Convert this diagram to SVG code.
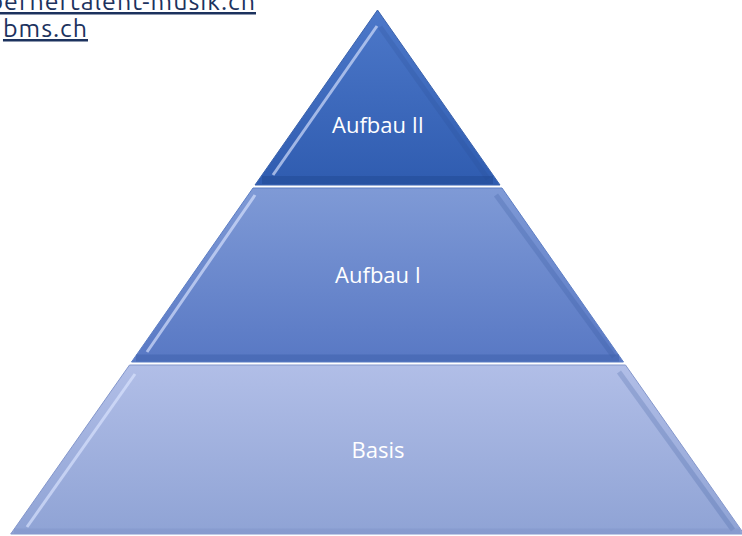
<svg xmlns="http://www.w3.org/2000/svg" width="742" height="536" viewBox="0 0 742 536">
<style>
.link{font-family:"Ubuntu","Open Sans","Liberation Sans",sans-serif;font-size:25px;letter-spacing:1px;fill:#1c325e;text-decoration:underline}
.lbl{font-family:"Open Sans","Liberation Sans",sans-serif;font-size:22px;fill:#ffffff;text-anchor:middle}
.hi{fill:none;stroke:#dbe5ff;stroke-opacity:0.65;stroke-width:3}
.sh{fill:none;stroke:#2a4c92;stroke-opacity:0.2;stroke-width:5}
</style>
<defs>
<linearGradient id="g1" x1="0" y1="0" x2="0" y2="1">
<stop offset="0" stop-color="#4d78c9"/><stop offset="1" stop-color="#2f5cb0"/>
</linearGradient>
<linearGradient id="g2" x1="0" y1="0" x2="0" y2="1">
<stop offset="0" stop-color="#7f9ad6"/><stop offset="1" stop-color="#5878c4"/>
</linearGradient>
<linearGradient id="g3" x1="0" y1="0" x2="0" y2="1">
<stop offset="0" stop-color="#b1bee7"/><stop offset="1" stop-color="#8fa3d5"/>
</linearGradient>
</defs>
<rect width="742" height="536" fill="#ffffff"/>
<g id="links">
<text class="link" x="256" y="10" text-anchor="end">bernertalent-musik.ch</text>
<text class="link" x="88" y="37" text-anchor="end">bms.ch</text>
</g>
<g id="basis">
<polygon points="129.5,365 625.5,365 744,534 10.7,534" fill="url(#g3)" stroke="#8497cc" stroke-width="1"/>
<line class="hi" x1="135" y1="374" x2="27" y2="527"/>
<line class="sh" x1="619" y1="372" x2="733" y2="530"/>
<line x1="14" y1="531" x2="740" y2="531" stroke="#7f93c8" stroke-opacity="0.45" stroke-width="5"/>
<text class="lbl" x="378" y="458">Basis</text>
</g>
<g id="aufbau1">
<polygon points="253,188 502,188 623.5,362 131.5,362" fill="url(#g2)" stroke="#5d7ec4" stroke-width="1"/>
<line class="hi" x1="255" y1="195" x2="147" y2="352"/>
<line class="sh" x1="496" y1="195" x2="614" y2="357"/>
<line x1="136" y1="358" x2="619" y2="358" stroke="#3f63ad" stroke-opacity="0.55" stroke-width="7"/>
<text class="lbl" x="378" y="283">Aufbau I</text>
</g>
<g id="aufbau2">
<polygon points="377.5,10 500,185 255,185" fill="url(#g1)" stroke="#3a62ad" stroke-width="1"/>
<line class="hi" x1="377" y1="26" x2="273" y2="175"/>
<line class="sh" x1="380" y1="27" x2="488" y2="179"/>
<line x1="262" y1="180" x2="493" y2="180" stroke="#234a96" stroke-opacity="0.55" stroke-width="8"/>
<text class="lbl" x="378" y="133">Aufbau II</text>
</g>
</svg>
